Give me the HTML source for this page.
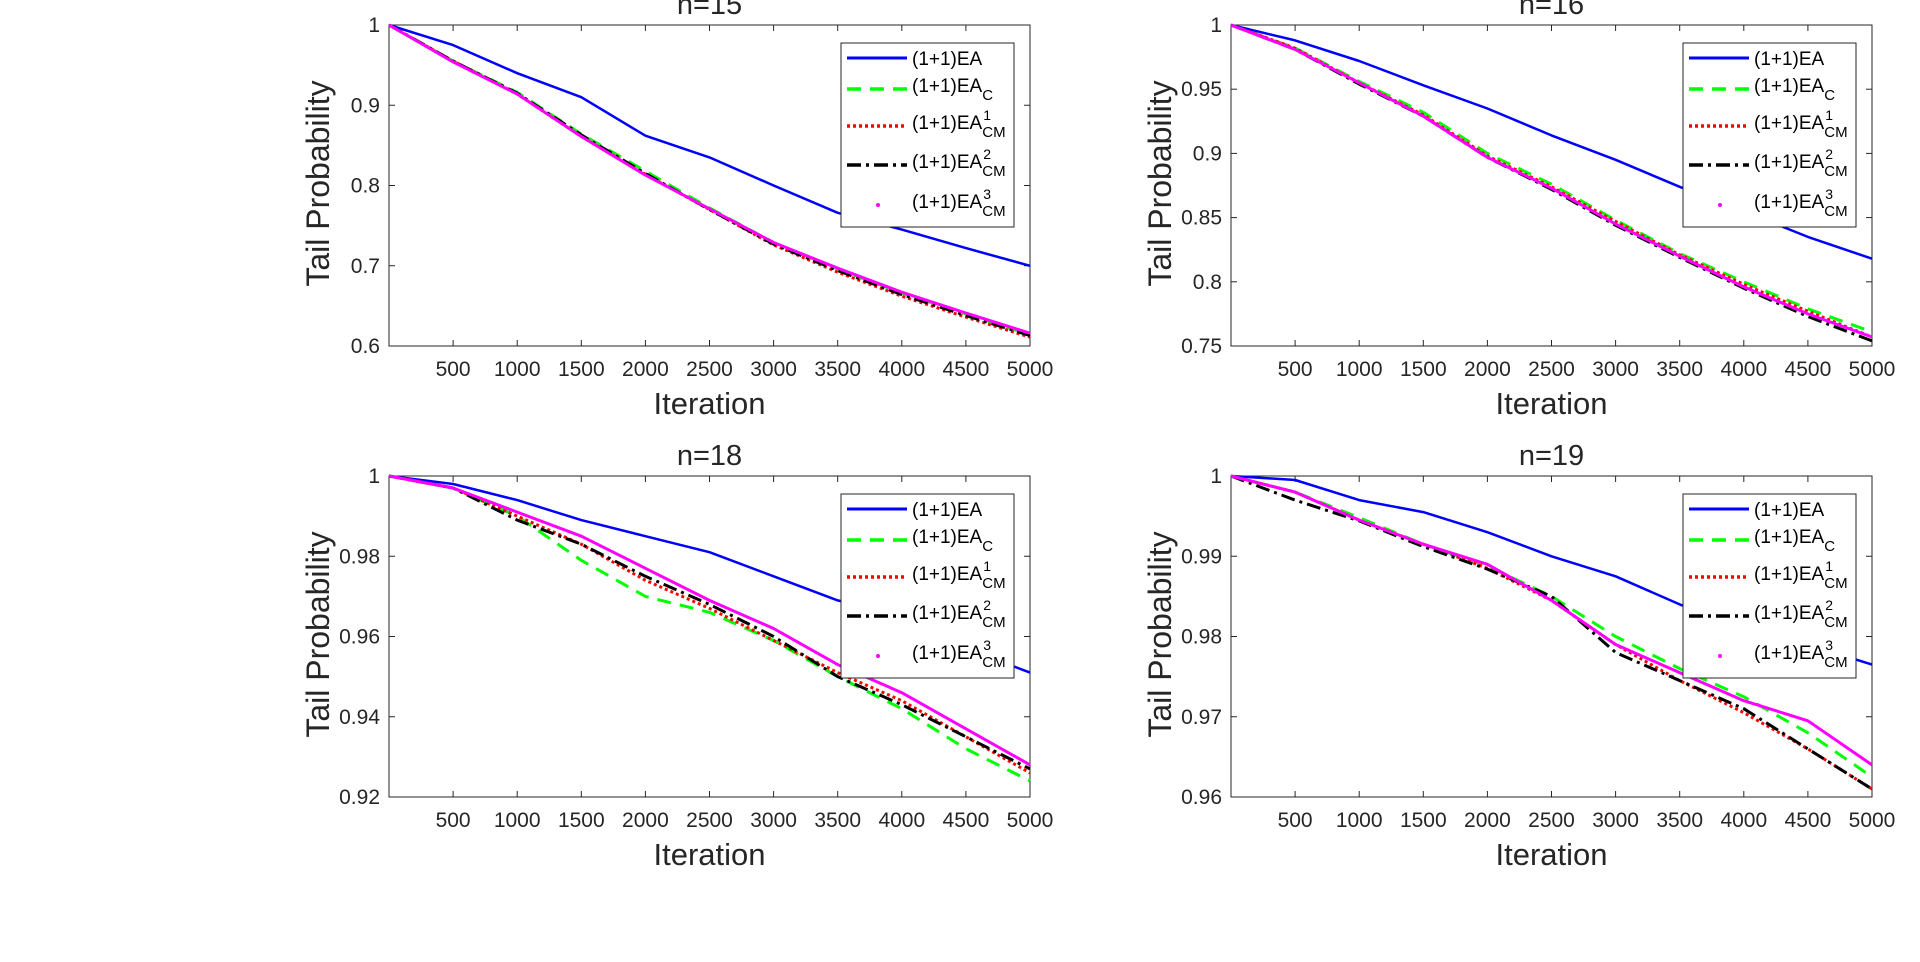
<!DOCTYPE html>
<html><head><meta charset="utf-8"><style>
html,body{margin:0;padding:0;background:#fff;}
svg{display:block;font-family:"Liberation Sans",Arial,sans-serif;}
</style></head><body>
<svg id="fig" width="1920" height="962" viewBox="0 0 1920 962"></svg>
<script>
const xVals=[0,500,1000,1500,2000,2500,3000,3500,4000,4500,5000];
const xTicks=[500,1000,1500,2000,2500,3000,3500,4000,4500,5000];
const titles=["n=15","n=16","n=18","n=19"];
const yMins=[0.6,0.75,0.92,0.96];
const yTicks15=[0.6,0.7,0.8,0.9,1];
const yTicks16=[0.75,0.8,0.85,0.9,0.95,1];
const yTicks18=[0.92,0.94,0.96,0.98,1];
const yTicks19=[0.96,0.97,0.98,0.99,1];
const yLabels15=["0.6","0.7","0.8","0.9","1"];
const yLabels16=["0.75","0.8","0.85","0.9","0.95","1"];
const yLabels18=["0.92","0.94","0.96","0.98","1"];
const yLabels19=["0.96","0.97","0.98","0.99","1"];
// n=15
const ea15=[1,0.975,0.94,0.91,0.862,0.835,0.80,0.766,0.745,0.722,0.70];
const eaC15=[1,0.955,0.916,0.864,0.818,0.772,0.729,0.696,0.666,0.640,0.614];
const cm1_15=[1,0.955,0.914,0.861,0.814,0.770,0.726,0.692,0.662,0.636,0.611];
const cm2_15=[1,0.955,0.915,0.863,0.815,0.770,0.727,0.694,0.664,0.638,0.613];
const cm3_15=[1,0.954,0.914,0.861,0.813,0.771,0.729,0.697,0.667,0.641,0.616];
// n=16
const ea16=[1,0.988,0.972,0.953,0.935,0.914,0.895,0.874,0.855,0.835,0.818];
const eaC16=[1,0.982,0.956,0.932,0.900,0.876,0.848,0.822,0.800,0.779,0.761];
const cm1_16=[1,0.982,0.955,0.930,0.898,0.874,0.847,0.821,0.798,0.777,0.757];
const cm2_16=[1,0.981,0.954,0.929,0.897,0.872,0.844,0.819,0.795,0.773,0.754];
const cm3_16=[1,0.981,0.955,0.929,0.897,0.873,0.845,0.820,0.796,0.775,0.757];
// n=18
const ea18=[1,0.998,0.994,0.989,0.985,0.981,0.975,0.969,0.965,0.957,0.951];
const eaC18=[1,0.997,0.990,0.979,0.970,0.966,0.959,0.950,0.942,0.932,0.924];
const cm1_18=[1,0.997,0.990,0.983,0.974,0.967,0.959,0.951,0.944,0.935,0.926];
const cm2_18=[1,0.997,0.989,0.983,0.975,0.968,0.960,0.950,0.943,0.935,0.927];
const cm3_18=[1,0.997,0.991,0.985,0.977,0.969,0.962,0.953,0.946,0.937,0.928];
// n=19
const ea19=[1,0.9995,0.997,0.9955,0.993,0.990,0.9875,0.984,0.981,0.979,0.9765];
const eaC19=[1,0.998,0.9948,0.9915,0.9888,0.985,0.980,0.976,0.9725,0.968,0.9625];
const cm1_19=[1,0.998,0.9945,0.9915,0.9885,0.9845,0.979,0.9745,0.9705,0.966,0.961];
const cm2_19=[1,0.997,0.9944,0.9912,0.9884,0.985,0.978,0.9745,0.971,0.966,0.961];
const cm3_19=[1,0.998,0.9945,0.9915,0.989,0.9845,0.979,0.9755,0.972,0.9695,0.964];

const panels=[
 {x:389,y:25,yt:yTicks15,yl:yLabels15,s:[ea15,eaC15,cm1_15,cm2_15,cm3_15]},
 {x:1231,y:25,yt:yTicks16,yl:yLabels16,s:[ea16,eaC16,cm1_16,cm2_16,cm3_16]},
 {x:389,y:476,yt:yTicks18,yl:yLabels18,s:[ea18,eaC18,cm1_18,cm2_18,cm3_18]},
 {x:1231,y:476,yt:yTicks19,yl:yLabels19,s:[ea19,eaC19,cm1_19,cm2_19,cm3_19]}
];
const W=641,H=321;
const styles=[
 {c:"#0000ff",w:2.5,d:""},
 {c:"#00ff00",w:3,d:"14 9"},
 {c:"#ff0000",w:3,d:"3 3"},
 {c:"#000000",w:3,d:"14 5 3 5"},
 {c:"#ff00ff",w:3,d:""}
];
const names=["ea","ea-c","ea-cm1","ea-cm2","ea-cm3"];
const legOff=[15,46,83,122,162];
const NS="http://www.w3.org/2000/svg";
const svg=document.getElementById("fig");
function mk(tag,attrs,parent,text){const e=document.createElementNS(NS,tag);for(const k in attrs)e.setAttribute(k,attrs[k]);if(text!==undefined)e.textContent=text;parent.appendChild(e);return e;}
panels.forEach((p,pi)=>{
 const g=mk("g",{},svg);
 
 
 const ymin=yMins[pi];
 const sx=v=>p.x+v/5000*W;
 const sy=v=>p.y+H-(v-ymin)/(1-ymin)*H;
 mk("rect",{x:p.x,y:p.y,width:W,height:H,fill:"#fff",stroke:"#262626","stroke-width":1},g);
 const t=mk("text",{x:p.x+W/2,y:p.y-11,"text-anchor":"middle","font-size":29,fill:"#262626"},g,titles[pi]);
 
 
 xTicks.forEach(v=>{
  const X=sx(v);
  mk("line",{x1:X,y1:p.y+H,x2:X,y2:p.y+H-6,stroke:"#262626"},g);
  mk("line",{x1:X,y1:p.y,x2:X,y2:p.y+6,stroke:"#262626"},g);
  const tl=mk("text",{x:X,y:p.y+H+30,"text-anchor":"middle","font-size":21,fill:"#262626"},g,String(v));
  
  
 });
 p.yt.forEach((v,i)=>{
  const Y=sy(v);
  mk("line",{x1:p.x,y1:Y,x2:p.x+6,y2:Y,stroke:"#262626"},g);
  mk("line",{x1:p.x+W,y1:Y,x2:p.x+W-6,y2:Y,stroke:"#262626"},g);
  const tl=mk("text",{x:p.x-9,y:Y+7,"text-anchor":"end","font-size":21,fill:"#262626"},g,p.yl[i]);
  
  
 });
 const xl=mk("text",{x:p.x+W/2,y:p.y+H+68,"text-anchor":"middle","font-size":31,fill:"#262626"},g,"Iteration");
 
 
 const ylx=p.x-60, yly=p.y+H/2-2;
 const yl=mk("text",{x:ylx,y:yly,"text-anchor":"middle","font-size":32,fill:"#262626",transform:`rotate(-90 ${ylx} ${yly})`},g,"Tail Probability");
 
 
 p.s.forEach((arr,si)=>{
  const st=styles[si];
  const pts=arr.map((v,i)=>sx(xVals[i]).toFixed(1)+","+sy(v).toFixed(1)).join(" ");
  const pl=mk("polyline",{points:pts,fill:"none",stroke:st.c,"stroke-width":st.w,"stroke-dasharray":st.d,"stroke-linejoin":"round"},g);
  
  
 });
 // legend
 const lx=p.x+W-189, ly=p.y+18;
 const lg=mk("g",{},g);
 
 
 mk("rect",{x:lx,y:ly,width:173,height:184,fill:"#fff",stroke:"#262626","stroke-width":1},lg);
 const labs=[["(1+1)EA","",""],["(1+1)EA","C",""],["(1+1)EA","CM","1"],["(1+1)EA","CM","2"],["(1+1)EA","CM","3"]];
 labs.forEach((lb,i)=>{
  const yy=ly+legOff[i];
  const st=styles[i];
  if(i===4){mk("circle",{cx:lx+37,cy:yy,r:2,fill:st.c},lg);}
  else mk("line",{x1:lx+6,y1:yy,x2:lx+66,y2:yy,stroke:st.c,"stroke-width":st.w+0.5,"stroke-dasharray":st.d},lg);
  const ty=lb[1]?yy+3:yy+7;
  const tx=mk("text",{x:lx+71,y:ty,"font-size":19,fill:"#000"},lg);
  
  
  const main=mk("tspan",{},tx,lb[0]);
  if(lb[1]){
   const base=lx+71+main.getComputedTextLength();
   if(lb[2]) mk("tspan",{x:base+1,y:ty-9,"font-size":14},tx,lb[2]);
   mk("tspan",{x:base,y:ty+8,"font-size":15},tx,lb[1]);
  }
 });
});
</script>
</body></html>
